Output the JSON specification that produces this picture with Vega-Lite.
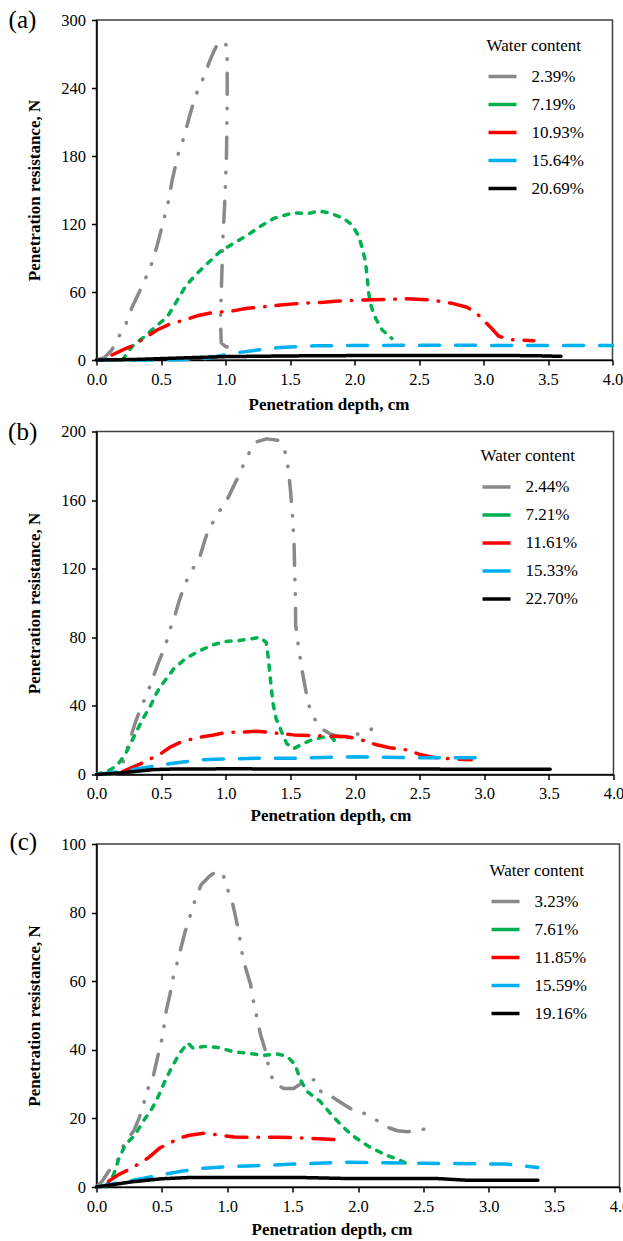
{
"$schema": "https://vega.github.io/schema/vega-lite/v6.json",
"padding": {"left": 6.5, "top": 7, "right": 0, "bottom": 3},
"spacing": 4.5,
"config": {
 "font": "Liberation Serif",
 "view": {"stroke": "#404040", "strokeWidth": 1.5},
 "axis": {"grid": false, "labelFlush": false, "domainColor": "#000000", "domainWidth": 1.5, "tickColor": "#000000", "tickWidth": 1.5, "tickSize": 5, "labelColor": "#000000", "labelFontSize": 16.5, "labelFont": "Liberation Serif", "titleFont": "Liberation Serif", "titleFontSize": 17, "titleFontWeight": "bold", "titleColor": "#000000"},
 "axisX": {"labelPadding": 6},
 "axisY": {"labelPadding": 6, "titlePadding": 17},
 "legend": {"orient": "none", "symbolType": "stroke", "symbolSize": 784, "symbolStrokeWidth": 3.5, "labelFont": "Liberation Serif", "labelFontSize": 17, "labelColor": "#000000", "titleFont": "Liberation Serif", "titleFontSize": 17, "titleFontWeight": "normal", "titleColor": "#000000", "labelOffset": 13, "rowPadding": 4, "titlePadding": 6, "padding": 0}
},
"datasets": {
 "a": [
  {"s":"2.39%","x":0.0,"y":0},{"s":"2.39%","x":0.06,"y":2},{"s":"2.39%","x":0.12,"y":9},{"s":"2.39%","x":0.165,"y":19},{"s":"2.39%","x":0.225,"y":31},{"s":"2.39%","x":0.277,"y":47},{"s":"2.39%","x":0.328,"y":59},{"s":"2.39%","x":0.372,"y":70},{"s":"2.39%","x":0.419,"y":82},{"s":"2.39%","x":0.47,"y":101},{"s":"2.39%","x":0.527,"y":126},{"s":"2.39%","x":0.56,"y":141},{"s":"2.39%","x":0.587,"y":159},{"s":"2.39%","x":0.612,"y":171},{"s":"2.39%","x":0.638,"y":184},{"s":"2.39%","x":0.677,"y":196},{"s":"2.39%","x":0.716,"y":213},{"s":"2.39%","x":0.754,"y":228},{"s":"2.39%","x":0.788,"y":239},{"s":"2.39%","x":0.837,"y":251},{"s":"2.39%","x":0.871,"y":262},{"s":"2.39%","x":0.904,"y":271},{"s":"2.39%","x":0.948,"y":281},{"s":"2.39%","x":0.975,"y":281},{"s":"2.39%","x":1.005,"y":278},{"s":"2.39%","x":1.013,"y":265},{"s":"2.39%","x":1.013,"y":229},{"s":"2.39%","x":1.008,"y":182},{"s":"2.39%","x":0.995,"y":141},{"s":"2.39%","x":0.98,"y":107},{"s":"2.39%","x":0.967,"y":59},{"s":"2.39%","x":0.961,"y":34},{"s":"2.39%","x":0.967,"y":15},{"s":"2.39%","x":1.0,"y":12},{"s":"2.39%","x":1.05,"y":10},{"s":"2.39%","x":1.09,"y":9},
  {"s":"7.19%","x":0.2,"y":0},{"s":"7.19%","x":0.277,"y":12},{"s":"7.19%","x":0.354,"y":19},{"s":"7.19%","x":0.444,"y":28},{"s":"7.19%","x":0.548,"y":38},{"s":"7.19%","x":0.612,"y":50},{"s":"7.19%","x":0.69,"y":65},{"s":"7.19%","x":0.767,"y":75},{"s":"7.19%","x":0.858,"y":85},{"s":"7.19%","x":0.961,"y":96},{"s":"7.19%","x":1.064,"y":103},{"s":"7.19%","x":1.168,"y":110},{"s":"7.19%","x":1.271,"y":118},{"s":"7.19%","x":1.375,"y":125},{"s":"7.19%","x":1.53,"y":130},{"s":"7.19%","x":1.633,"y":129},{"s":"7.19%","x":1.724,"y":131.5},{"s":"7.19%","x":1.814,"y":129.5},{"s":"7.19%","x":1.917,"y":125},{"s":"7.19%","x":1.982,"y":119},{"s":"7.19%","x":2.034,"y":109},{"s":"7.19%","x":2.06,"y":98.5},{"s":"7.19%","x":2.085,"y":87},{"s":"7.19%","x":2.098,"y":73.5},{"s":"7.19%","x":2.11,"y":59},{"s":"7.19%","x":2.13,"y":47},{"s":"7.19%","x":2.163,"y":37},{"s":"7.19%","x":2.215,"y":26.5},{"s":"7.19%","x":2.29,"y":19},
  {"s":"10.93%","x":0.12,"y":4.4},{"s":"10.93%","x":0.212,"y":9.4},{"s":"10.93%","x":0.289,"y":13},{"s":"10.93%","x":0.367,"y":19},{"s":"10.93%","x":0.47,"y":26.5},{"s":"10.93%","x":0.574,"y":32},{"s":"10.93%","x":0.677,"y":35},{"s":"10.93%","x":0.78,"y":39},{"s":"10.93%","x":0.909,"y":42},{"s":"10.93%","x":1.039,"y":43},{"s":"10.93%","x":1.168,"y":45.6},{"s":"10.93%","x":1.297,"y":47},{"s":"10.93%","x":1.426,"y":48.5},{"s":"10.93%","x":1.58,"y":50},{"s":"10.93%","x":1.762,"y":51},{"s":"10.93%","x":1.878,"y":52},{"s":"10.93%","x":2.073,"y":53},{"s":"10.93%","x":2.254,"y":53.5},{"s":"10.93%","x":2.395,"y":54},{"s":"10.93%","x":2.589,"y":53},{"s":"10.93%","x":2.757,"y":50},{"s":"10.93%","x":2.873,"y":46.5},{"s":"10.93%","x":2.95,"y":41},{"s":"10.93%","x":3.0,"y":35},{"s":"10.93%","x":3.054,"y":29},{"s":"10.93%","x":3.118,"y":21},{"s":"10.93%","x":3.209,"y":18},{"s":"10.93%","x":3.39,"y":17},
  {"s":"15.64%","x":0.0,"y":0},{"s":"15.64%","x":0.3,"y":0},{"s":"15.64%","x":0.65,"y":0.2},{"s":"15.64%","x":0.858,"y":1.5},{"s":"15.64%","x":1.064,"y":6},{"s":"15.64%","x":1.245,"y":8.8},{"s":"15.64%","x":1.426,"y":11},{"s":"15.64%","x":1.684,"y":12.5},{"s":"15.64%","x":2.0,"y":12.8},{"s":"15.64%","x":2.5,"y":13},{"s":"15.64%","x":3.0,"y":12.9},{"s":"15.64%","x":3.5,"y":12.9},{"s":"15.64%","x":4.0,"y":12.9},
  {"s":"20.69%","x":0.0,"y":0},{"s":"20.69%","x":0.3,"y":0.5},{"s":"20.69%","x":0.6,"y":1.6},{"s":"20.69%","x":1.0,"y":3},{"s":"20.69%","x":1.5,"y":3.6},{"s":"20.69%","x":2.0,"y":3.9},{"s":"20.69%","x":2.5,"y":4},{"s":"20.69%","x":3.0,"y":4},{"s":"20.69%","x":3.4,"y":3.8},{"s":"20.69%","x":3.6,"y":3.2}
 ],
 "b": [
  {"s":"2.44%","x":0.0,"y":0},{"s":"2.44%","x":0.15,"y":0.5},{"s":"2.44%","x":0.185,"y":1.3},{"s":"2.44%","x":0.224,"y":12},{"s":"2.44%","x":0.268,"y":22.7},{"s":"2.44%","x":0.301,"y":30.5},{"s":"2.44%","x":0.34,"y":38.3},{"s":"2.44%","x":0.396,"y":48},{"s":"2.44%","x":0.443,"y":57.7},{"s":"2.44%","x":0.481,"y":65.5},{"s":"2.44%","x":0.532,"y":75},{"s":"2.44%","x":0.571,"y":85},{"s":"2.44%","x":0.61,"y":93.7},{"s":"2.44%","x":0.643,"y":102},{"s":"2.44%","x":0.68,"y":110},{"s":"2.44%","x":0.726,"y":118},{"s":"2.44%","x":0.764,"y":122},{"s":"2.44%","x":0.803,"y":127.7},{"s":"2.44%","x":0.834,"y":135.5},{"s":"2.44%","x":0.867,"y":143.3},{"s":"2.44%","x":0.919,"y":149},{"s":"2.44%","x":0.962,"y":155},{"s":"2.44%","x":1.014,"y":160.8},{"s":"2.44%","x":1.06,"y":168},{"s":"2.44%","x":1.112,"y":176},{"s":"2.44%","x":1.15,"y":183},{"s":"2.44%","x":1.184,"y":188},{"s":"2.44%","x":1.24,"y":194},{"s":"2.44%","x":1.317,"y":195.7},{"s":"2.44%","x":1.408,"y":194.8},{"s":"2.44%","x":1.459,"y":188},{"s":"2.44%","x":1.485,"y":178},{"s":"2.44%","x":1.502,"y":164.6},{"s":"2.44%","x":1.518,"y":149},{"s":"2.44%","x":1.529,"y":133.5},{"s":"2.44%","x":1.534,"y":116},{"s":"2.44%","x":1.539,"y":102.4},{"s":"2.44%","x":1.541,"y":87},{"s":"2.44%","x":1.562,"y":75},{"s":"2.44%","x":1.588,"y":61.6},{"s":"2.44%","x":1.622,"y":48},{"s":"2.44%","x":1.657,"y":36.3},{"s":"2.44%","x":1.703,"y":30.5},{"s":"2.44%","x":1.742,"y":26.6},{"s":"2.44%","x":1.807,"y":23.7},{"s":"2.44%","x":1.884,"y":22},{"s":"2.44%","x":1.987,"y":22.7},{"s":"2.44%","x":2.116,"y":26},{"s":"2.44%","x":2.206,"y":29.5},
  {"s":"7.21%","x":0.0,"y":0},{"s":"7.21%","x":0.095,"y":2.3},{"s":"7.21%","x":0.159,"y":5.2},{"s":"7.21%","x":0.224,"y":12},{"s":"7.21%","x":0.288,"y":21.8},{"s":"7.21%","x":0.352,"y":31.5},{"s":"7.21%","x":0.417,"y":40},{"s":"7.21%","x":0.468,"y":48},{"s":"7.21%","x":0.52,"y":53.8},{"s":"7.21%","x":0.597,"y":61.6},{"s":"7.21%","x":0.687,"y":67.5},{"s":"7.21%","x":0.777,"y":71.3},{"s":"7.21%","x":0.88,"y":75},{"s":"7.21%","x":0.983,"y":77.5},{"s":"7.21%","x":1.086,"y":78},{"s":"7.21%","x":1.19,"y":79},{"s":"7.21%","x":1.266,"y":80},{"s":"7.21%","x":1.313,"y":77},{"s":"7.21%","x":1.33,"y":67.5},{"s":"7.21%","x":1.348,"y":53.8},{"s":"7.21%","x":1.364,"y":42},{"s":"7.21%","x":1.39,"y":32.5},{"s":"7.21%","x":1.433,"y":24.7},{"s":"7.21%","x":1.472,"y":18},{"s":"7.21%","x":1.523,"y":15},{"s":"7.21%","x":1.575,"y":17},{"s":"7.21%","x":1.652,"y":19.8},{"s":"7.21%","x":1.755,"y":21.8},{"s":"7.21%","x":1.81,"y":22.5},{"s":"7.21%","x":1.845,"y":19.4},
  {"s":"11.61%","x":0.2,"y":1.5},{"s":"11.61%","x":0.25,"y":3.3},{"s":"11.61%","x":0.34,"y":6.2},{"s":"11.61%","x":0.417,"y":9.1},{"s":"11.61%","x":0.494,"y":12},{"s":"11.61%","x":0.571,"y":16},{"s":"11.61%","x":0.649,"y":18.8},{"s":"11.61%","x":0.726,"y":20.4},{"s":"11.61%","x":0.803,"y":21.8},{"s":"11.61%","x":0.906,"y":23},{"s":"11.61%","x":1.009,"y":24.7},{"s":"11.61%","x":1.112,"y":24.7},{"s":"11.61%","x":1.24,"y":25.2},{"s":"11.61%","x":1.369,"y":24.3},{"s":"11.61%","x":1.523,"y":23.1},{"s":"11.61%","x":1.678,"y":22.7},{"s":"11.61%","x":1.807,"y":22.3},{"s":"11.61%","x":1.923,"y":22.2},{"s":"11.61%","x":2.026,"y":20.8},{"s":"11.61%","x":2.167,"y":17.3},{"s":"11.61%","x":2.27,"y":15.6},{"s":"11.61%","x":2.398,"y":14.4},{"s":"11.61%","x":2.502,"y":11.7},{"s":"11.61%","x":2.63,"y":9.7},{"s":"11.61%","x":2.76,"y":9.1},{"s":"11.61%","x":2.9,"y":8.6},
  {"s":"15.33%","x":0.0,"y":0},{"s":"15.33%","x":0.237,"y":2.3},{"s":"15.33%","x":0.468,"y":5.2},{"s":"15.33%","x":0.622,"y":6.8},{"s":"15.33%","x":0.803,"y":8.6},{"s":"15.33%","x":1.009,"y":9.1},{"s":"15.33%","x":1.266,"y":9.5},{"s":"15.33%","x":1.523,"y":9.5},{"s":"15.33%","x":1.987,"y":10.3},{"s":"15.33%","x":2.5,"y":9.8},{"s":"15.33%","x":2.93,"y":9.7},
  {"s":"22.70%","x":0.0,"y":0},{"s":"22.70%","x":0.2,"y":1},{"s":"22.70%","x":0.443,"y":2.9},{"s":"22.70%","x":0.6,"y":3.2},{"s":"22.70%","x":1.0,"y":3.3},{"s":"22.70%","x":2.0,"y":3.2},{"s":"22.70%","x":3.0,"y":3.1},{"s":"22.70%","x":3.51,"y":3.1}
 ],
 "c": [
  {"s":"3.23%","x":0.0,"y":0},{"s":"3.23%","x":0.043,"y":1.7},{"s":"3.23%","x":0.093,"y":4.6},{"s":"3.23%","x":0.149,"y":6.5},{"s":"3.23%","x":0.182,"y":9.9},{"s":"3.23%","x":0.22,"y":13.3},{"s":"3.23%","x":0.283,"y":16.2},{"s":"3.23%","x":0.326,"y":20.1},{"s":"3.23%","x":0.358,"y":24},{"s":"3.23%","x":0.396,"y":28.9},{"s":"3.23%","x":0.434,"y":32.3},{"s":"3.23%","x":0.472,"y":38.6},{"s":"3.23%","x":0.502,"y":43.4},{"s":"3.23%","x":0.535,"y":51.7},{"s":"3.23%","x":0.561,"y":56},{"s":"3.23%","x":0.586,"y":61},{"s":"3.23%","x":0.624,"y":66.3},{"s":"3.23%","x":0.649,"y":70.2},{"s":"3.23%","x":0.679,"y":74.6},{"s":"3.23%","x":0.712,"y":78.4},{"s":"3.23%","x":0.732,"y":81.3},{"s":"3.23%","x":0.768,"y":85},{"s":"3.23%","x":0.8,"y":88.1},{"s":"3.23%","x":0.864,"y":90.6},{"s":"3.23%","x":0.927,"y":92.3},{"s":"3.23%","x":0.972,"y":90.6},{"s":"3.23%","x":1.008,"y":86.2},{"s":"3.23%","x":1.04,"y":82.8},{"s":"3.23%","x":1.066,"y":78.4},{"s":"3.23%","x":1.091,"y":73.6},{"s":"3.23%","x":1.116,"y":67.7},{"s":"3.23%","x":1.141,"y":63.8},{"s":"3.23%","x":1.179,"y":59},{"s":"3.23%","x":1.205,"y":53.2},{"s":"3.23%","x":1.23,"y":48.8},{"s":"3.23%","x":1.255,"y":44.4},{"s":"3.23%","x":1.293,"y":39.6},{"s":"3.23%","x":1.318,"y":34.7},{"s":"3.23%","x":1.356,"y":30.3},{"s":"3.23%","x":1.432,"y":28.7},{"s":"3.23%","x":1.508,"y":28.7},{"s":"3.23%","x":1.558,"y":30},{"s":"3.23%","x":1.609,"y":31},{"s":"3.23%","x":1.672,"y":31.3},{"s":"3.23%","x":1.722,"y":27.4},{"s":"3.23%","x":1.798,"y":26.4},{"s":"3.23%","x":1.874,"y":24.5},{"s":"3.23%","x":1.962,"y":22.4},{"s":"3.23%","x":2.063,"y":21.3},{"s":"3.23%","x":2.139,"y":19.5},{"s":"3.23%","x":2.227,"y":17.4},{"s":"3.23%","x":2.303,"y":16.4},{"s":"3.23%","x":2.379,"y":16.1},{"s":"3.23%","x":2.467,"y":16.6},{"s":"3.23%","x":2.543,"y":17.1},
  {"s":"7.61%","x":0.07,"y":0},{"s":"7.61%","x":0.131,"y":3.6},{"s":"7.61%","x":0.169,"y":8},{"s":"7.61%","x":0.22,"y":12.3},{"s":"7.61%","x":0.295,"y":15.2},{"s":"7.61%","x":0.358,"y":19.2},{"s":"7.61%","x":0.427,"y":23},{"s":"7.61%","x":0.472,"y":26.4},{"s":"7.61%","x":0.523,"y":30.8},{"s":"7.61%","x":0.573,"y":34.7},{"s":"7.61%","x":0.636,"y":39},{"s":"7.61%","x":0.699,"y":42},{"s":"7.61%","x":0.737,"y":40.5},{"s":"7.61%","x":0.826,"y":41},{"s":"7.61%","x":0.927,"y":40.7},{"s":"7.61%","x":1.053,"y":39.4},{"s":"7.61%","x":1.154,"y":39},{"s":"7.61%","x":1.28,"y":38.4},{"s":"7.61%","x":1.381,"y":38.8},{"s":"7.61%","x":1.457,"y":38.1},{"s":"7.61%","x":1.52,"y":35.7},{"s":"7.61%","x":1.553,"y":31.8},{"s":"7.61%","x":1.608,"y":27.9},{"s":"7.61%","x":1.71,"y":25},{"s":"7.61%","x":1.81,"y":20.5},{"s":"7.61%","x":1.911,"y":16.6},{"s":"7.61%","x":1.987,"y":14.2},{"s":"7.61%","x":2.088,"y":11.7},{"s":"7.61%","x":2.214,"y":9.3},{"s":"7.61%","x":2.316,"y":7.9},{"s":"7.61%","x":2.392,"y":6.4},
  {"s":"11.85%","x":0.093,"y":1.7},{"s":"11.85%","x":0.169,"y":3.6},{"s":"11.85%","x":0.27,"y":5.5},{"s":"11.85%","x":0.396,"y":8.5},{"s":"11.85%","x":0.485,"y":11.4},{"s":"11.85%","x":0.561,"y":12.8},{"s":"11.85%","x":0.636,"y":14.3},{"s":"11.85%","x":0.712,"y":15.1},{"s":"11.85%","x":0.826,"y":15.7},{"s":"11.85%","x":0.927,"y":15.2},{"s":"11.85%","x":1.053,"y":14.6},{"s":"11.85%","x":1.205,"y":14.5},{"s":"11.85%","x":1.381,"y":14.5},{"s":"11.85%","x":1.583,"y":14.3},{"s":"11.85%","x":1.735,"y":14},{"s":"11.85%","x":1.85,"y":13.8},
  {"s":"15.59%","x":0.0,"y":0},{"s":"15.59%","x":0.169,"y":1.2},{"s":"15.59%","x":0.371,"y":2.6},{"s":"15.59%","x":0.498,"y":3.6},{"s":"15.59%","x":0.649,"y":4.6},{"s":"15.59%","x":0.826,"y":5.5},{"s":"15.59%","x":1.028,"y":6},{"s":"15.59%","x":1.28,"y":6.3},{"s":"15.59%","x":1.533,"y":6.7},{"s":"15.59%","x":1.886,"y":7.2},{"s":"15.59%","x":2.5,"y":6.9},{"s":"15.59%","x":3.124,"y":6.7},{"s":"15.59%","x":3.376,"y":5.7},
  {"s":"19.16%","x":0.0,"y":0},{"s":"19.16%","x":0.27,"y":1.5},{"s":"19.16%","x":0.498,"y":2.4},{"s":"19.16%","x":0.725,"y":2.8},{"s":"19.16%","x":1.03,"y":2.8},{"s":"19.16%","x":1.53,"y":2.8},{"s":"19.16%","x":1.886,"y":2.5},{"s":"19.16%","x":2.59,"y":2.5},{"s":"19.16%","x":2.82,"y":2.0},{"s":"19.16%","x":3.376,"y":2.0}
 ]
},
"vconcat": [
 {
  "width": 516, "height": 340,
  "layer": [
   {"data": {"name": "a"},
    "mark": {"type": "line", "strokeWidth": 3.5, "strokeCap": "round", "strokeJoin": "round"},
    "encoding": {
     "x": {"field": "x", "type": "quantitative", "title": "Penetration depth, cm", "scale": {"domain": [0, 4], "nice": false}, "axis": {"values": [0, 0.5, 1, 1.5, 2, 2.5, 3, 3.5, 4], "format": ".1f", "titleX": 232, "titlePadding": 9}},
     "y": {"field": "y", "type": "quantitative", "title": "Penetration resistance, N", "scale": {"domain": [0, 300], "nice": false}, "axis": {"values": [0, 60, 120, 180, 240, 300]}},
     "color": {"field": "s", "type": "nominal", "scale": {"domain": ["2.39%", "7.19%", "10.93%", "15.64%", "20.69%"], "range": ["#898989", "#00b050", "#ff0000", "#00b0f0", "#000000"]}, "legend": {"title": "Water content", "legendX": 390, "legendY": 17.5}},
     "strokeDash": {"field": "s", "type": "nominal", "scale": {"domain": ["20.69%", "15.64%", "10.93%", "7.19%", "2.39%"], "range": [[1, 0], [20, 16], [21, 11, 0.5, 11], [5, 8], [21, 14, 0.5, 14, 0.5, 14]]}, "legend": null},
     "order": {"value": null}
    }},
   {"data": {"values": [{"t": "(a)"}]},
    "mark": {"type": "text", "font": "Liberation Serif", "fontSize": 25, "baseline": "middle", "align": "center", "color": "#000000"},
    "encoding": {"x": {"datum": -0.574, "type": "quantitative", "title": "Penetration depth, cm"}, "y": {"datum": 300, "type": "quantitative", "title": "Penetration resistance, N"}, "text": {"field": "t"}}}
  ]
 },
 {
  "width": 517, "height": 343,
  "layer": [
   {"data": {"name": "b"},
    "mark": {"type": "line", "strokeWidth": 3.5, "strokeCap": "round", "strokeJoin": "round"},
    "encoding": {
     "x": {"field": "x", "type": "quantitative", "title": "Penetration depth, cm", "scale": {"domain": [0, 4], "nice": false}, "axis": {"values": [0, 0.5, 1, 1.5, 2, 2.5, 3, 3.5, 4], "format": ".1f", "titleX": 234, "titlePadding": 5}},
     "y": {"field": "y", "type": "quantitative", "title": "Penetration resistance, N", "scale": {"domain": [0, 200], "nice": false}, "axis": {"values": [0, 40, 80, 120, 160, 200]}},
     "color": {"field": "s", "type": "nominal", "scale": {"domain": ["2.44%", "7.21%", "11.61%", "15.33%", "22.70%"], "range": ["#898989", "#00b050", "#ff0000", "#00b0f0", "#000000"]}, "legend": {"title": "Water content", "legendX": 384, "legendY": 16.5}},
     "strokeDash": {"field": "s", "type": "nominal", "scale": {"domain": ["22.70%", "15.33%", "11.61%", "7.21%", "2.44%"], "range": [[1, 0], [20, 16], [21, 11, 0.5, 11], [5, 8], [21, 14, 0.5, 14, 0.5, 14]]}, "legend": null},
     "order": {"value": null}
    }},
   {"data": {"values": [{"t": "(b)"}]},
    "mark": {"type": "text", "font": "Liberation Serif", "fontSize": 25, "baseline": "middle", "align": "center", "color": "#000000"},
    "encoding": {"x": {"datum": -0.571, "type": "quantitative", "title": "Penetration depth, cm"}, "y": {"datum": 200, "type": "quantitative", "title": "Penetration resistance, N"}, "text": {"field": "t"}}}
  ]
 },
 {
  "width": 523, "height": 343,
  "layer": [
   {"data": {"name": "c"},
    "mark": {"type": "line", "strokeWidth": 3.5, "strokeCap": "round", "strokeJoin": "round"},
    "encoding": {
     "x": {"field": "x", "type": "quantitative", "title": "Penetration depth, cm", "scale": {"domain": [0, 4], "nice": false}, "axis": {"values": [0, 0.5, 1, 1.5, 2, 2.5, 3, 3.5, 4], "format": ".1f", "titleX": 235, "titlePadding": 7}},
     "y": {"field": "y", "type": "quantitative", "title": "Penetration resistance, N", "scale": {"domain": [0, 100], "nice": false}, "axis": {"values": [0, 20, 40, 60, 80, 100]}},
     "color": {"field": "s", "type": "nominal", "scale": {"domain": ["3.23%", "7.61%", "11.85%", "15.59%", "19.16%"], "range": ["#898989", "#00b050", "#ff0000", "#00b0f0", "#000000"]}, "legend": {"title": "Water content", "legendX": 393, "legendY": 18.5}},
     "strokeDash": {"field": "s", "type": "nominal", "scale": {"domain": ["19.16%", "15.59%", "11.85%", "7.61%", "3.23%"], "range": [[1, 0], [20, 16], [21, 11, 0.5, 11], [5, 8], [21, 14, 0.5, 14, 0.5, 14]]}, "legend": null},
     "order": {"value": null}
    }},
   {"data": {"values": [{"t": "(c)"}]},
    "mark": {"type": "text", "font": "Liberation Serif", "fontSize": 25, "baseline": "middle", "align": "center", "color": "#000000", "dy": -2},
    "encoding": {"x": {"datum": -0.56, "type": "quantitative", "title": "Penetration depth, cm"}, "y": {"datum": 100, "type": "quantitative", "title": "Penetration resistance, N"}, "text": {"field": "t"}}}
  ]
 }
],
"resolve": {"scale": {"x": "independent", "y": "independent", "color": "independent", "strokeDash": "independent"}}
}
